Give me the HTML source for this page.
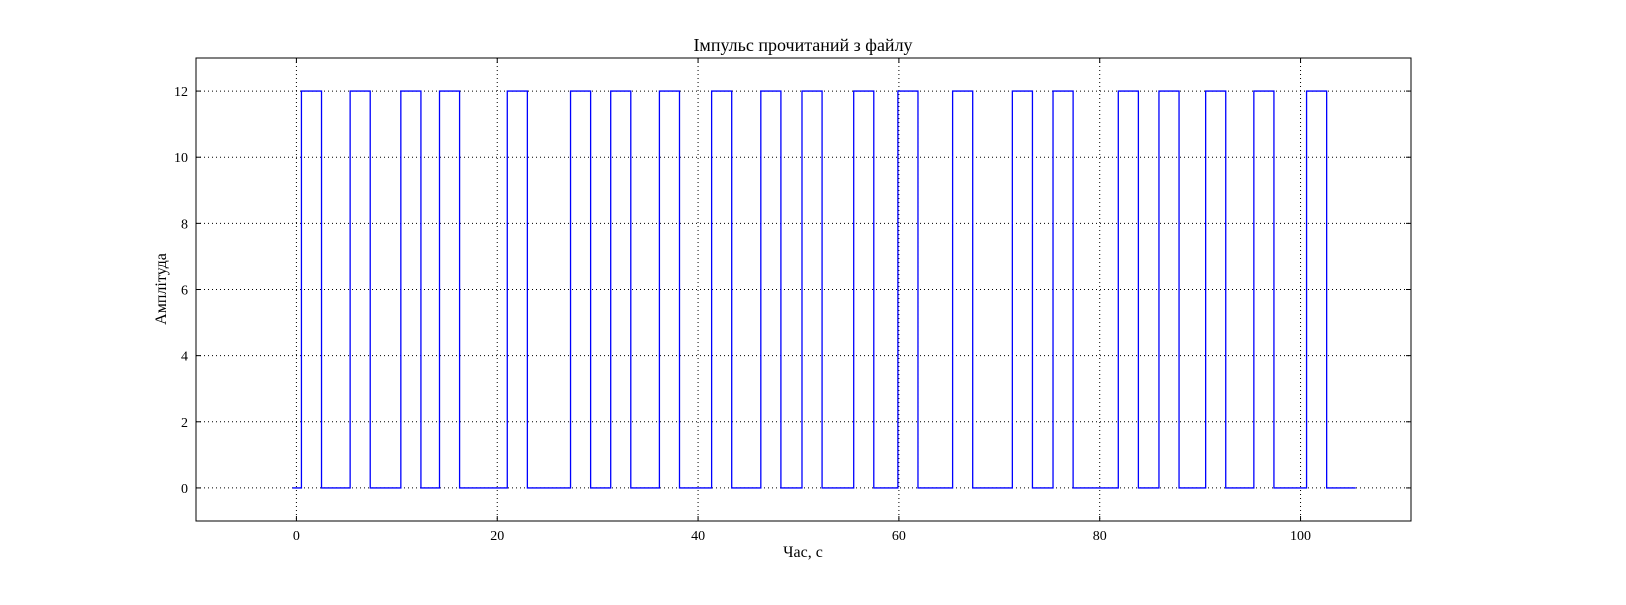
<!DOCTYPE html>
<html><head><meta charset="utf-8"><style>
html,body{margin:0;padding:0;background:#fff;}
svg text{font-family:"Liberation Serif","DejaVu Serif",serif;fill:#000;}
</style></head><body>
<svg id="chart" width="1626" height="600" xmlns="http://www.w3.org/2000/svg">
<rect width="1626" height="600" fill="#fff"/>
<g id="grid"></g>
<path id="series" fill="none" stroke="#0000ff" stroke-width="1.3"/>
<rect x="196" y="58" width="1215" height="463" fill="none" stroke="#000" stroke-width="1"/>
<g id="ticks"></g>
<text x="803" y="51" font-size="18" text-anchor="middle">Імпульс прочитаний з файлу</text>
<text x="803" y="557" font-size="16" text-anchor="middle">Час, с</text>
<text x="166" y="289" font-size="16" text-anchor="middle" transform="rotate(-90 166 289)">Амплітуда</text>
</svg>
<script>
const riseTimes = [0.5,5.35,10.4,14.25,21.0,27.3,31.3,36.15,41.35,46.25,50.35,55.5,59.9,65.35,71.3,75.35,81.85,85.9,90.55,95.35,100.6];
const pulseWidths = [2,2,2,2,2,2,2,2,2,2,2,2,2,2,2,2,2,2,2,2,2];
const highValue = [12];
const lowValue = [0];
const startEnd = [-0.4,105.5];
const xTicks = [0,20,40,60,80,100];
const yTicks = [0,2,4,6,8,10,12];

const L=196,R=1411,T=58,B=521,X0=-10,X1=111,Y0=-1,Y1=13;
const sx=v=>L+(v-X0)/(X1-X0)*(R-L);
const sy=v=>B-(v-Y0)/(Y1-Y0)*(B-T);
const NS="http://www.w3.org/2000/svg";
const grid=document.getElementById('grid'),ticks=document.getElementById('ticks');
function mk(tag,attrs,parent){const e=document.createElementNS(NS,tag);for(const k in attrs)e.setAttribute(k,attrs[k]);parent.appendChild(e);return e;}
xTicks.forEach(v=>{
  const x=sx(v);
  const g=mk('line',{x1:x,x2:x,y1:T,y2:B,stroke:'#000','stroke-width':1,'stroke-dasharray':'1,3'},grid);
  
  
  mk('line',{x1:x,x2:x,y1:B,y2:B-5,stroke:'#000'},ticks);
  mk('line',{x1:x,x2:x,y1:T,y2:T+5,stroke:'#000'},ticks);
  const t=mk('text',{x:x,y:B+19,'font-size':14,'text-anchor':'middle'},ticks);
  t.textContent=v;
  
  
});
yTicks.forEach(v=>{
  const y=sy(v);
  const g=mk('line',{x1:L,x2:R,y1:y,y2:y,stroke:'#000','stroke-width':1,'stroke-dasharray':'1,3'},grid);
  
  
  mk('line',{x1:L,x2:L+5,y1:y,y2:y,stroke:'#000'},ticks);
  mk('line',{x1:R,x2:R-5,y1:y,y2:y,stroke:'#000'},ticks);
  const t=mk('text',{x:L-8,y:y+5,'font-size':14,'text-anchor':'end'},ticks);
  t.textContent=v;
  
  
});
let d='M'+sx(startEnd[0])+','+sy(lowValue[0]);
riseTimes.forEach((r,i)=>{
  const f=r+pulseWidths[i];
  d+=' L'+sx(r)+','+sy(lowValue[0])+' L'+sx(r)+','+sy(highValue[0])+' L'+sx(f)+','+sy(highValue[0])+' L'+sx(f)+','+sy(lowValue[0]);
});
d+=' L'+sx(startEnd[1])+','+sy(lowValue[0]);
document.getElementById('series').setAttribute('d',d);
</script>
</body></html>
